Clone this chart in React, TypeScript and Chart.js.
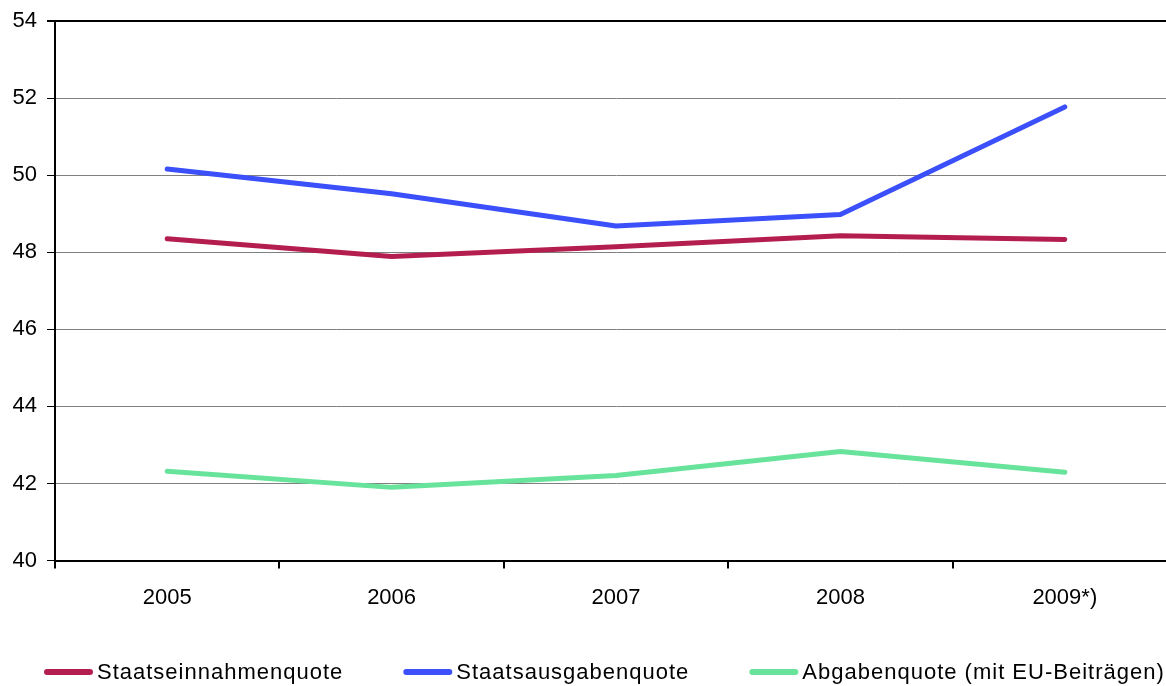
import React, { useEffect, useRef } from 'react';
import { Chart, registerables } from 'chart.js';

Chart.register(...registerables);

const categories = ['2005', '2006', '2007', '2008', '2009*)'];
const staatseinnahmenquote = [48.35, 47.89, 48.14, 48.43, 48.33];
const staatsausgabenquote = [50.16, 49.52, 48.68, 48.98, 51.77];
const abgabenquote = [42.32, 41.9, 42.21, 42.83, 42.29];
const seriesLabels = ['Staatseinnahmenquote', 'Staatsausgabenquote', 'Abgabenquote (mit EU-Beiträgen)'];
const seriesColors = ['#B41E4E', '#3B50FA', '#68E39B'];
const yMin = 40;
const yMax = 54;
const yStep = 2;

const FONT = '"Liberation Sans", Arial, sans-serif';

const legendPlugin = {
  id: 'customLegend',
  afterDraw(chart: any) {
    const ctx = chart.ctx;
    ctx.save();
    ctx.font = `22px ${FONT}`;
    try { (ctx as any).letterSpacing = '1px'; } catch (e) {}
    ctx.textBaseline = 'middle';
    ctx.textAlign = 'left';
    const y = 672;
    let x = 44;
    chart.data.datasets.forEach((ds: any) => {
      ctx.strokeStyle = ds.borderColor;
      ctx.lineWidth = 6;
      ctx.lineCap = 'round';
      ctx.beginPath();
      ctx.moveTo(x + 3, y);
      ctx.lineTo(x + 46, y);
      ctx.stroke();
      ctx.fillStyle = '#000';
      ctx.fillText(ds.label, x + 53, y + 1);
      x += 53 + ctx.measureText(ds.label).width + 60;
    });
    ctx.restore();
  },
};

export default function App() {
  const ref = useRef<HTMLCanvasElement>(null);
  useEffect(() => {
    if (!ref.current) return;
    const data = [staatseinnahmenquote, staatsausgabenquote, abgabenquote];
    const chart = new Chart(ref.current, {
      type: 'line',
      data: {
        labels: categories,
        datasets: data.map((d, i) => ({
          label: seriesLabels[i],
          data: d,
          borderColor: seriesColors[i],
          backgroundColor: seriesColors[i],
          borderWidth: 5,
          borderCapStyle: 'round',
          borderJoinStyle: 'round',
          pointRadius: 0,
          tension: 0,
          fill: false,
        })),
      },
      options: {
        animation: false,
        responsive: false,
        layout: { padding: { top: 20, right: 0, bottom: 59, left: 0 } },
        plugins: {
          legend: { display: false },
          tooltip: { enabled: false },
        },
        scales: {
          x: {
            type: 'category',
            offset: true,
            grid: {
              offset: true,
              drawOnChartArea: false,
              drawTicks: true,
              tickLength: 8,
              color: '#000',
              tickColor: '#000',
              lineWidth: 2,
            },
            border: { display: true, color: '#000', width: 2 },
            ticks: {
              color: '#000',
              font: { family: FONT, size: 22 },
              padding: 16,
              maxRotation: 0,
            },
          },
          y: {
            min: yMin,
            max: yMax,
            afterFit: (scale: any) => {
              scale.width = 55;
            },
            grid: {
              drawTicks: true,
              tickLength: 8,
              color: (c: any) => (c.tick && c.tick.value === yMax ? '#000' : '#808080'),
              lineWidth: (c: any) => (c.tick && c.tick.value === yMax ? 2 : 1),
              tickColor: '#000',
            },
            border: { display: true, color: '#000', width: 2 },
            ticks: {
              stepSize: yStep,
              color: '#000',
              font: { family: FONT, size: 22, lineHeight: 1 },
              padding: 10,
            },
          },
        },
      },
      plugins: [legendPlugin],
    } as any);
    return () => chart.destroy();
  }, []);
  return (
    <div style={{ position: 'absolute', left: 0, top: 0, width: 1166, height: 686, overflow: 'hidden', background: '#fff' }}>
      <canvas ref={ref} width={1177} height={686} style={{ display: 'block' }} />
    </div>
  );
}
